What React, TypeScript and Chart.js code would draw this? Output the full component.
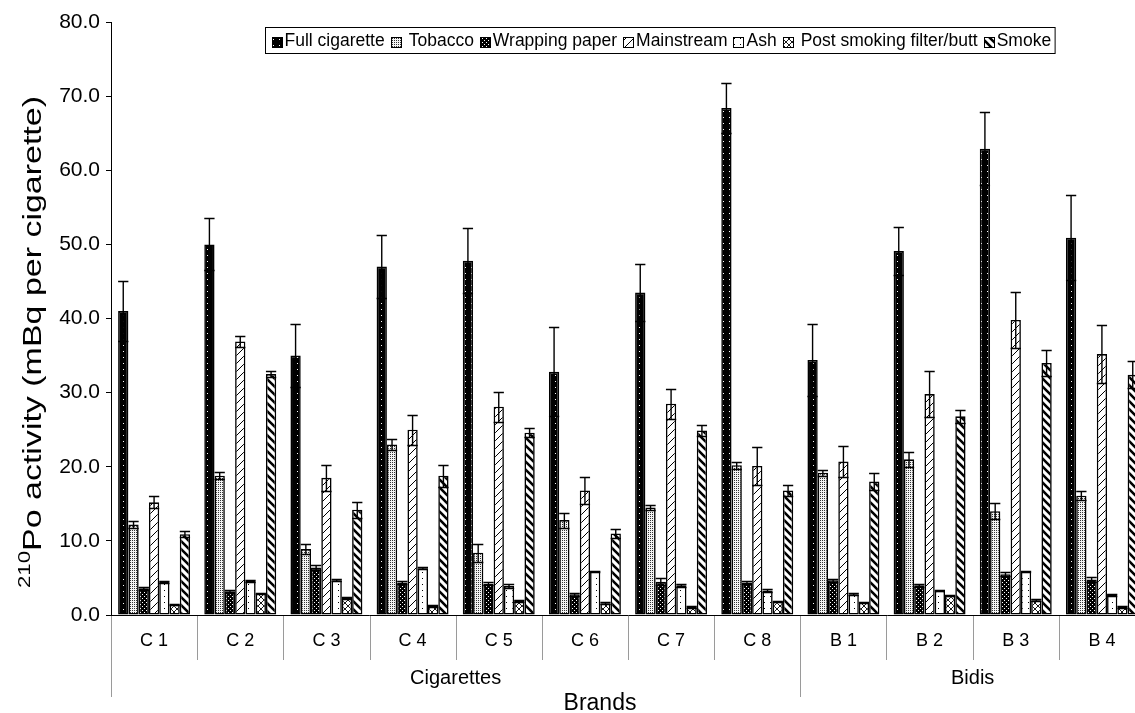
import React, { useEffect, useRef } from "react";
import { Chart, registerables } from "chart.js";

Chart.register(...registerables);

// ---------- data ----------
const categories = ["C 1", "C 2", "C 3", "C 4", "C 5", "C 6", "C 7", "C 8", "B 1", "B 2", "B 3", "B 4"];
const groupLabels = ["Cigarettes", "Bidis"];
const groupStarts = [0, 8];
const groupEnds = [7, 11];

const seriesNames = [
  "Full cigarette",
  "Tobacco",
  "Wrapping paper",
  "Mainstream",
  "Ash",
  "Post smoking filter/butt",
  "Smoke",
];

const fullCigarette = [41.0, 50.0, 35.0, 47.0, 47.8, 32.8, 43.5, 68.4, 34.4, 49.1, 62.9, 50.9];
const fullCigaretteErr = [4.1, 3.5, 4.2, 4.3, 4.4, 6.0, 3.8, 3.4, 4.8, 3.2, 4.9, 5.7];
const tobacco = [12.2, 18.8, 8.9, 23.0, 8.4, 12.8, 14.5, 20.2, 19.2, 21.0, 14.0, 16.1];
const tobaccoErr = [0.5, 0.5, 0.7, 0.8, 1.2, 1.0, 0.4, 0.5, 0.4, 1.0, 1.1, 0.6];
const wrappingPaper = [3.6, 3.2, 6.4, 4.4, 4.2, 2.8, 4.5, 4.4, 4.7, 4.0, 5.5, 4.8];
const wrappingPaperErr = [0.2, 0.2, 0.3, 0.2, 0.2, 0.2, 0.5, 0.2, 0.2, 0.2, 0.3, 0.3];
const mainstream = [15.2, 36.9, 18.5, 25.0, 28.1, 16.8, 28.5, 20.1, 20.7, 29.8, 39.8, 35.2];
const mainstreamErr = [0.8, 0.8, 1.8, 2.0, 2.0, 1.8, 2.0, 2.6, 2.1, 3.1, 3.8, 3.9];
const ash = [4.5, 4.6, 4.7, 6.3, 3.9, 5.9, 4.0, 3.3, 2.8, 3.3, 5.9, 2.7];
const ashErr = [0.15, 0.15, 0.15, 0.15, 0.3, 0.1, 0.2, 0.15, 0.15, 0.1, 0.1, 0.1];
const postSmoking = [1.4, 2.9, 2.3, 1.2, 1.9, 1.6, 1.1, 1.8, 1.7, 2.6, 2.0, 1.1];
const postSmokingErr = [0.1, 0.1, 0.1, 0.1, 0.1, 0.1, 0.1, 0.1, 0.1, 0.1, 0.1, 0.1];
const smoke = [10.9, 32.5, 14.2, 18.8, 24.6, 11.0, 24.9, 16.8, 18.0, 26.8, 34.0, 32.4];
const smokeErr = [0.4, 0.4, 1.1, 1.5, 0.6, 0.6, 0.7, 0.7, 1.2, 0.9, 1.7, 1.8];

const seriesValues = [fullCigarette, tobacco, wrappingPaper, mainstream, ash, postSmoking, smoke];
const seriesErrors = [fullCigaretteErr, tobaccoErr, wrappingPaperErr, mainstreamErr, ashErr, postSmokingErr, smokeErr];

const yMin = 0;
const yMax = 80;
const yStep = 10;
const yTitleSup = "210";
const yTitleMain = "Po activity (mBq per cigarette)";
const xTitle = "Brands";

// ---------- styling ----------
const FONT = '"Liberation Sans", Arial, Helvetica, sans-serif';
const CANVAS_W = 1160;
const CANVAS_H = 713;

type Ctx = CanvasRenderingContext2D;

function tile(ctx: Ctx, size: number, draw: (c: Ctx, s: number) => void): CanvasPattern {
  const cv = document.createElement("canvas");
  cv.width = size;
  cv.height = size;
  const c = cv.getContext("2d") as Ctx;
  draw(c, size);
  return ctx.createPattern(cv, "repeat") as CanvasPattern;
}

function diag(c: Ctx, s: number, dir: 1 | -1) {
  c.beginPath();
  for (let k = -1; k <= 1; k++) {
    if (dir === 1) {
      c.moveTo(k * s - 1, s + 1);
      c.lineTo(k * s + s + 1, -1);
    } else {
      c.moveTo(k * s - 1, -1);
      c.lineTo(k * s + s + 1, s + 1);
    }
  }
  c.stroke();
}

function makePatterns(ctx: Ctx): CanvasPattern[] {
  const full = tile(ctx, 6, (c, s) => {
    c.fillStyle = "#000";
    c.fillRect(0, 0, s, s);
    c.fillStyle = "#fff";
    c.fillRect(3, 3, 1, 1);
  });
  const tob = tile(ctx, 2, (c, s) => {
    c.fillStyle = "#f4f4f4";
    c.fillRect(0, 0, s, s);
    c.fillStyle = "#333";
    c.fillRect(0, 0, 1, 1);
  });
  const wrap = tile(ctx, 4, (c, s) => {
    c.fillStyle = "#000";
    c.fillRect(0, 0, s, s);
    c.fillStyle = "#fff";
    c.fillRect(0, 0, 1, 1);
    c.fillRect(2, 2, 1, 1);
  });
  const main = tile(ctx, 8, (c, s) => {
    c.fillStyle = "#fff";
    c.fillRect(0, 0, s, s);
    c.strokeStyle = "#000";
    c.lineWidth = 1;
    diag(c, s, 1);
  });
  const ashP = tile(ctx, 6, (c, s) => {
    c.fillStyle = "#fff";
    c.fillRect(0, 0, s, s);
    c.fillStyle = "#000";
    c.fillRect(2, 2, 1, 1);
  });
  const post = tile(ctx, 6, (c, s) => {
    c.fillStyle = "#fff";
    c.fillRect(0, 0, s, s);
    c.strokeStyle = "#000";
    c.lineWidth = 0.9;
    diag(c, s, 1);
    diag(c, s, -1);
  });
  const smk = tile(ctx, 8, (c, s) => {
    c.fillStyle = "#fff";
    c.fillRect(0, 0, s, s);
    c.strokeStyle = "#000";
    c.lineWidth = 2.6;
    diag(c, s, -1);
  });
  return [full, tob, wrap, main, ashP, post, smk];
}

// ---------- plugins ----------
const errorBarPlugin = {
  id: "errorBars",
  afterDatasetsDraw(chart: any) {
    const ctx: Ctx = chart.ctx;
    const y = chart.scales.y;
    ctx.save();
    ctx.strokeStyle = "#000";
    ctx.lineWidth = 1.4;
    chart.data.datasets.forEach((ds: any, i: number) => {
      const meta = chart.getDatasetMeta(i);
      meta.data.forEach((bar: any, j: number) => {
        const v = ds.data[j];
        const e = seriesErrors[i][j];
        const props = bar.getProps(["x", "width"], true);
        const half = props.width / 2;
        const yh = Math.round(y.getPixelForValue(v + e)) + 0.5;
        const yl = Math.round(y.getPixelForValue(Math.max(0, v - e))) + 0.5;
        ctx.beginPath();
        ctx.moveTo(props.x, yh);
        ctx.lineTo(props.x, yl);
        ctx.moveTo(props.x - half, yh);
        ctx.lineTo(props.x + half, yh);
        ctx.moveTo(props.x - half, yl);
        ctx.lineTo(props.x + half, yl);
        ctx.stroke();
      });
    });
    ctx.restore();
  },
};

const axesDecorPlugin = {
  id: "axesDecor",
  afterDraw(chart: any) {
    const ctx: Ctx = chart.ctx;
    const x = chart.scales.x;
    const { bottom } = chart.chartArea;
    const n = categories.length;
    const halfCat = (x.getPixelForValue(1) - x.getPixelForValue(0)) / 2;
    ctx.save();
    // separators
    ctx.strokeStyle = "#9a9a9a";
    ctx.lineWidth = 1;
    for (let i = 0; i <= n; i++) {
      const px = Math.round(x.getPixelForValue(i) - halfCat) + 0.5;
      const isGroupEdge = groupStarts.indexOf(i) >= 0;
      ctx.beginPath();
      ctx.moveTo(px, bottom + 1);
      ctx.lineTo(px, bottom + (isGroupEdge ? 82 : 45));
      ctx.stroke();
    }
    // category labels
    ctx.fillStyle = "#000";
    ctx.textAlign = "center";
    ctx.textBaseline = "middle";
    ctx.font = `18px ${FONT}`;
    categories.forEach((c, i) => {
      ctx.fillText(c, x.getPixelForValue(i), bottom + 26);
    });
    // group labels
    ctx.font = `20px ${FONT}`;
    groupLabels.forEach((g, k) => {
      const a = x.getPixelForValue(groupStarts[k]) - halfCat;
      const b = x.getPixelForValue(groupEnds[k]) + halfCat;
      ctx.fillText(g, (a + b) / 2, bottom + 63);
    });
    // x title
    ctx.font = `23px ${FONT}`;
    ctx.fillText(xTitle, 600, bottom + 89);
    // y title with superscript (stretched along its length)
    ctx.translate(41, 342);
    ctx.rotate(-Math.PI / 2);
    ctx.textAlign = "left";
    ctx.textBaseline = "alphabetic";
    ctx.font = `17px ${FONT}`;
    const wSup = ctx.measureText(yTitleSup).width;
    ctx.font = `26px ${FONT}`;
    const wMain = ctx.measureText(yTitleMain).width;
    const stretch = 492 / (wSup + wMain);
    ctx.scale(stretch, 1);
    const x0 = -(wSup + wMain) / 2;
    ctx.font = `17px ${FONT}`;
    ctx.fillText(yTitleSup, x0, -11);
    ctx.font = `26px ${FONT}`;
    ctx.fillText(yTitleMain, x0 + wSup, 0);
    ctx.restore();
  },
};

const legendBoxPlugin = {
  id: "legendBox",
  afterDraw(chart: any) {
    const ctx: Ctx = chart.ctx;
    const boxX = 265.5;
    const boxY = 27.5;
    const boxH = 26;
    const icon = 10;
    ctx.save();
    ctx.font = `17.5px ${FONT}`;
    ctx.textBaseline = "middle";
    ctx.textAlign = "left";
    let cx = boxX + 6;
    const cy = boxY + boxH / 2 + 1;
    const items: { x: number; tx: number; ds: any; label: string }[] = [];
    chart.data.datasets.forEach((ds: any, i: number) => {
      const label = ds.label as string;
      const extra = i === 1 || i === 5 ? 5 : 0;
      items.push({ x: cx, tx: cx + icon + 3 + extra, ds, label });
      cx += icon + 3 + extra + ctx.measureText(label).width + 6;
    });
    const boxW = cx - boxX - 2;
    ctx.fillStyle = "#fff";
    ctx.fillRect(boxX, boxY, boxW, boxH);
    ctx.strokeStyle = "#000";
    ctx.lineWidth = 1;
    ctx.strokeRect(boxX, boxY, boxW, boxH);
    items.forEach((it) => {
      const iy = Math.round(cy - icon / 2) + 0.5;
      const ix = Math.round(it.x) + 0.5;
      ctx.fillStyle = it.ds.backgroundColor;
      ctx.fillRect(ix, iy, icon, icon);
      ctx.strokeStyle = "#000";
      ctx.lineWidth = 1;
      ctx.strokeRect(ix, iy, icon, icon);
      ctx.fillStyle = "#000";
      ctx.fillText(it.label, it.tx, cy);
    });
    ctx.restore();
  },
};

export default function App() {
  const canvasRef = useRef<HTMLCanvasElement | null>(null);

  useEffect(() => {
    const canvas = canvasRef.current;
    if (!canvas) return;
    const ctx = canvas.getContext("2d") as Ctx;
    const patterns = makePatterns(ctx);

    const datasets = seriesNames.map((name, i) => ({
      label: name,
      data: seriesValues[i],
      backgroundColor: patterns[i],
      borderColor: "#000",
      borderWidth: 1.6,
      borderSkipped: false,
      categoryPercentage: 0.835,
      barPercentage: 1.0,
    }));

    const chart = new Chart(canvas, {
      type: "bar",
      data: { labels: categories, datasets },
      plugins: [errorBarPlugin, axesDecorPlugin, legendBoxPlugin],
      options: {
        responsive: false,
        maintainAspectRatio: false,
        animation: false,
        events: [],
        layout: { padding: { left: 0, top: 22, right: CANVAS_W - 1145, bottom: 0 } },
        plugins: {
          legend: { display: false },
          tooltip: { enabled: false },
          title: { display: false },
        },
        scales: {
          x: {
            type: "category",
            offset: true,
            grid: { display: false },
            border: { display: true, color: "#000", width: 1 },
            ticks: { display: false },
            afterFit: (s: any) => {
              s.height = CANVAS_H - 615;
            },
          },
          y: {
            type: "linear",
            min: yMin,
            max: yMax,
            border: { display: true, color: "#000", width: 1 },
            grid: { drawOnChartArea: false, drawTicks: true, tickLength: 5, color: "#000" },
            ticks: {
              stepSize: yStep,
              padding: 6,
              color: "#000",
              font: { family: FONT, size: 21 },
              callback: (v: any) => Number(v).toFixed(1),
            },
            afterFit: (s: any) => {
              s.width = 111;
            },
          },
        },
      },
    } as any);

    return () => chart.destroy();
  }, []);

  return (
    <div
      style={{
        position: "fixed",
        left: 0,
        top: 0,
        width: 1135,
        height: 713,
        overflow: "hidden",
        background: "#fff",
      }}
    >
      <canvas
        ref={canvasRef}
        width={CANVAS_W}
        height={CANVAS_H}
        style={{ display: "block", width: CANVAS_W, height: CANVAS_H }}
      />
    </div>
  );
}
